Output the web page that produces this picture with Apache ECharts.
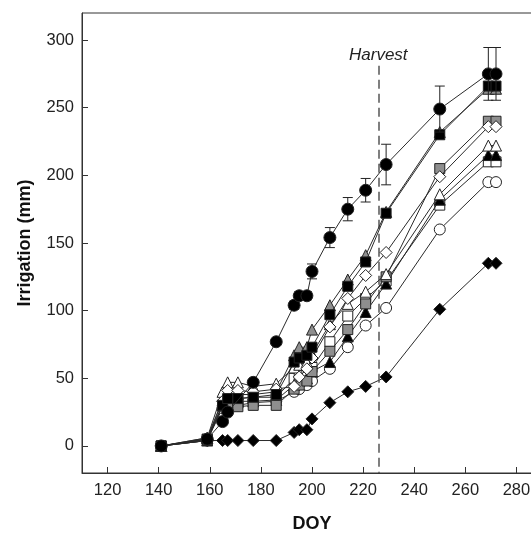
<!DOCTYPE html>
<html><head><meta charset="utf-8">
<script src="https://cdn.jsdelivr.net/npm/echarts@6/dist/echarts.min.js"></script>
<style>html,body{margin:0;padding:0;background:#fff}#c{width:531px;height:533px}</style>
</head><body><div id="c"></div>
<script>
const doy = [141,159,165,167,171,177,186,193,195,198,200,207,214,221,229,250,269,272];
const filledCircle  = [0,5,18,25,null,47,77,104,111,111,129,154,175,189,208,249,275,275];
const circleErr     = [0,0,0,0,null,0,0,3,3,3,5.5,7.4,8.6,8.7,15,17,19.5,19.5];
const filledSquare  = [0,5,30,35,35,36,38,62,65,67,73,97,118,136,172,230,266,266];
const greyTriangle  = [0,6,34,38,38,38,40,67,73,73,86,104,123,141,173,232,264,264];
const greySquare    = [0,4,30,30,29,30,30,42,45,48,55,70,86,105,125,205,240,240];
const openDiamond   = [0,5,33,41,41,40,42,44,51,57,65,88,109,126,143,199,236,236];
const openTriangle  = [0,6,40,47,47,44,46,58,60,62,68,90,105,114,127,186,222,222];
const filledTriangle= [0,4,30,33,33,33,34,45,48,50,55,62,81,99,120,182,215,215];
const openSquare    = [0,5,30,35,35,36,36,50,52,55,58,77,96,109,122,178,210,210];
const openCircle    = [0,4,28,30,30,32,33,40,42,45,48,57,73,89,102,160,195,195];
const filledDiamond = [0,4,4,4,4,4,4,10,12,12,20,32,40,44,51,101,135,135];
const xTicks = [120,140,160,180,200,220,240,260,280];
const yTicks = [0,50,100,150,200,250,300];
const harvestDoy = 226;
const harvestTop = 281;

function pairs(vals){ const out=[]; vals.forEach((v,i)=>{ if(v!==null) out.push([doy[i],v]); }); return out; }

const lineCol = '#2a2a2a';
const font = 'Liberation Sans, Arial, Helvetica, sans-serif';
function mk(name, vals, symbol, size, fill, z){
  return {
    name, type:'line', data:pairs(vals), symbol, symbolSize:size, z:z,
    lineStyle:{color:lineCol,width:1},
    itemStyle:{color:fill,borderColor:'#222',borderWidth:1},
    emphasis:{disabled:true}, animation:false
  };
}

const errData = [];
filledCircle.forEach((v,i)=>{ if(v!==null && circleErr[i]>0) errData.push([doy[i], v, circleErr[i]]); });

const chart = echarts.init(document.getElementById('c'));
chart.setOption({
  animation:false,
  grid:{left:82, top:13, right:-11, bottom:60, show:true, borderColor:'#333', borderWidth:1,
    backgroundColor:'transparent', containLabel:false, outerBoundsMode:'none'},
  xAxis:{type:'value', min:110, max:290, name:'DOY', nameLocation:'middle', nameGap:42,
    nameTextStyle:{fontFamily:font, fontWeight:'bold', fontSize:18, color:'#111'},
    axisLine:{onZero:false, lineStyle:{color:'#333'}},
    axisTick:{inside:true, length:6, customValues:xTicks, lineStyle:{color:'#333'}},
    axisLabel:{customValues:xTicks, margin:9, fontFamily:font, fontSize:16.5, color:'#222'},
    splitLine:{show:false}},
  yAxis:{type:'value', min:-20, max:320, name:'Irrigation (mm)', nameLocation:'middle', nameGap:48,
    nameTextStyle:{fontFamily:font, fontWeight:'bold', fontSize:18, color:'#111'},
    axisLine:{onZero:false, lineStyle:{color:'#333'}},
    axisTick:{inside:true, length:6, customValues:yTicks, lineStyle:{color:'#333'}},
    axisLabel:{customValues:yTicks, margin:8, fontFamily:font, fontSize:16.5, color:'#222'},
    splitLine:{show:false}},
  graphic:[{type:'text', left:349, top:47, style:{text:'Harvest', font:'italic 17px "Liberation Sans", Arial', fill:'#222'}}],
  series:[
    Object.assign(mk('filledDiamond', filledDiamond, 'diamond', 12, '#000', 3), {
      markLine:{silent:true, symbol:'none', label:{show:false},
        lineStyle:{color:'#555', type:[9,5], width:1.5},
        data:[[{coord:[harvestDoy, harvestTop]},{coord:[harvestDoy,-20]}]]}
    }),
    mk('openCircle', openCircle, 'circle', 11, '#fff', 4),
    mk('openSquare', openSquare, 'rect', 10, '#fff', 5),
    mk('filledTriangle', filledTriangle, 'triangle', 11, '#000', 6),
    mk('greySquare', greySquare, 'rect', 10, '#8e8e8e', 7),
    mk('greyTriangle', greyTriangle, 'triangle', 11, '#8e8e8e', 8),
    mk('openTriangle', openTriangle, 'triangle', 11, '#fff', 9),
    mk('openDiamond', openDiamond, 'diamond', 12, '#fff', 10),
    mk('filledSquare', filledSquare, 'rect', 10, '#000', 11),
    {type:'custom', z:12, data:errData, animation:false,
      renderItem:function(params, api){
        const x=api.value(0), y=api.value(1), e=api.value(2);
        const top=api.coord([x,y+e]), bot=api.coord([x,y-e]);
        const hw=5;
        const st={stroke:'#222', lineWidth:1};
        return {type:'group', children:[
          {type:'line', shape:{x1:top[0],y1:top[1],x2:bot[0],y2:bot[1]}, style:st},
          {type:'line', shape:{x1:top[0]-hw,y1:top[1],x2:top[0]+hw,y2:top[1]}, style:st},
          {type:'line', shape:{x1:bot[0]-hw,y1:bot[1],x2:bot[0]+hw,y2:bot[1]}, style:st}
        ]};
      }},
    mk('filledCircle', filledCircle, 'circle', 12, '#000', 13)
  ]
});
</script></body></html>
